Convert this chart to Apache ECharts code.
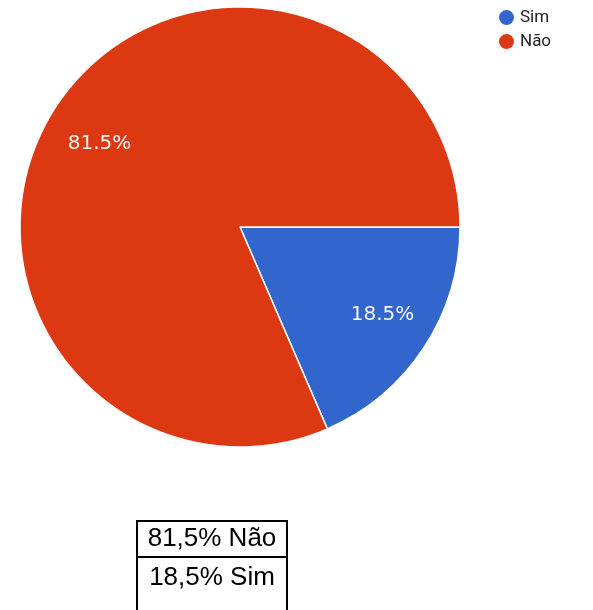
<!DOCTYPE html>
<html>
<head>
<meta charset="utf-8">
<style>
  html, body { margin: 0; padding: 0; background: #ffffff; }
  #chart { width: 593px; height: 610px; }
</style>
<script src="https://cdn.jsdelivr.net/npm/echarts@6/dist/echarts.min.js"></script>
</head>
<body>
<div id="chart"></div>
<script>
// Answer categories and their shares (percent)
const categories = ['Sim', 'Não'];
const shares = [18.5, 81.5];
const sliceColors = ['#3366cc', '#dc3912'];

// Summary rows shown beneath the pie
const summaryRows = ['81,5% Não', '18,5% Sim'];

// Nudge each percentage label outward from the default inside spot
const labelOffsets = [[48, 26], [-46, -21]];

const chart = echarts.init(document.getElementById('chart'), null, { renderer: 'canvas' });

const pieData = categories.map((name, i) => ({
  name: name,
  value: shares[i],
  itemStyle: { color: sliceColors[i] },
  label: { offset: labelOffsets[i] }
}));

// Table drawn as bordered cells under the chart (last row runs off the bottom)
const tableX = 137, tableW = 150, rowTops = [521, 557], rowH = [36, 60], textY = [539, 578];
const tableGraphics = [];
summaryRows.forEach((txt, i) => {
  tableGraphics.push({
    type: 'rect',
    shape: { x: tableX, y: rowTops[i], width: tableW, height: rowH[i] },
    style: { fill: '#ffffff', stroke: '#000000', lineWidth: 2 }
  });
  tableGraphics.push({
    type: 'text',
    x: tableX + tableW / 2,
    y: textY[i],
    style: {
      text: txt,
      font: '26px "Liberation Sans", Arial, sans-serif',
      fill: '#000000',
      align: 'center',
      verticalAlign: 'middle'
    }
  });
});

chart.setOption({
  animation: false,
  backgroundColor: '#ffffff',
  legend: {
    orient: 'vertical',
    left: 497,
    top: 8,
    padding: 0,
    icon: 'circle',
    itemWidth: 17,
    itemHeight: 17,
    itemGap: 5,
    textStyle: { fontFamily: 'Roboto', fontSize: 17, color: '#222222' },
    data: categories
  },
  graphic: tableGraphics,
  series: [{
    type: 'pie',
    center: [240, 227],
    radius: 220,
    startAngle: 0,
    clockwise: true,
    data: pieData,
    itemStyle: { borderColor: '#ffffff', borderWidth: 1.5 },
    label: {
      show: true,
      position: 'inside',
      formatter: (p) => p.value.toFixed(1) + '%',
      fontFamily: 'DejaVu Sans',
      fontSize: 20,
      color: '#f4f4f4'
    },
    labelLine: { show: false },
    emphasis: { disabled: true }
  }]
});
</script>
</body>
</html>
